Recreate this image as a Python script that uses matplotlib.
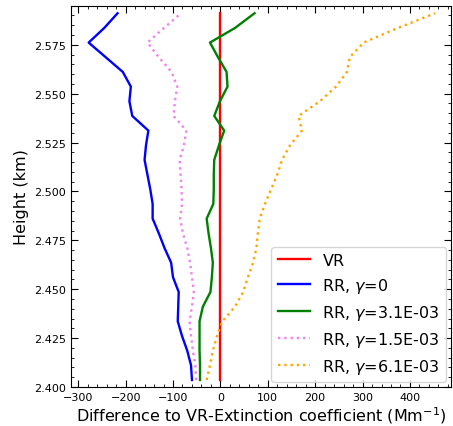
import numpy as np
import matplotlib
matplotlib.use("Agg")
import matplotlib.pyplot as plt
from matplotlib.ticker import MultipleLocator

# height levels (km), bottom to top
heights = [2.4036, 2.4111, 2.4186, 2.4261, 2.4336, 2.4411, 2.4486, 2.4561,
           2.4636, 2.4711, 2.4786, 2.4861, 2.4936, 2.5011, 2.5086, 2.5161,
           2.5236, 2.5311, 2.5386, 2.5461, 2.5536, 2.5611, 2.5686, 2.5761,
           2.5836, 2.5911]

# difference to VR extinction coefficient (Mm^-1)
vr = [0.0] * len(heights)
rr_g0 = [-60, -62, -70, -81, -90, -89, -88, -100, -104, -118, -130, -143, -143,
         -148, -154, -160, -157, -152, -186, -192, -189, -206, -242, -278, -245, -217]
rr_g31 = [-43, -43, -44, -44, -44, -37, -21, -18, -16, -20, -25, -29, -15,
          -14, -14, -13, -3, 8, -13, -1, 15, 13, -5, -22, 31, 72]
rr_g15 = [-51, -53, -58, -62, -65, -60, -56, -60, -64, -70, -79, -85, -81,
          -82, -84, -86, -77, -72, -99, -96, -91, -103, -130, -154, -119, -83]
rr_g61 = [-29, -22, -16, -7, 4, 31, 48, 58, 69, 76, 79, 83, 94,
          107, 120, 130, 147, 172, 165, 210, 244, 267, 273, 302, 375, 453]

fig = plt.figure(figsize=(4.53, 4.27), dpi=100)
ax = fig.add_axes([0.157, 0.0913, 0.839, 0.8923])

ax.plot(vr, heights, color='red', lw=1.7, label='VR')
ax.plot(rr_g0, heights, color='blue', lw=1.7, label=r'RR, $\gamma$=0')
ax.plot(rr_g31, heights, color='green', lw=1.7, label=r'RR, $\gamma$=3.1E-03')
ax.plot(rr_g15, heights, color='violet', lw=1.7, ls=':', label=r'RR, $\gamma$=1.5E-03')
ax.plot(rr_g61, heights, color='orange', lw=1.7, ls=':', label=r'RR, $\gamma$=6.1E-03')

ax.set_xlim(-315, 487)
ax.set_ylim(2.400, 2.5948)
ax.xaxis.set_major_locator(MultipleLocator(100))
ax.xaxis.set_minor_locator(MultipleLocator(20))
ax.yaxis.set_major_locator(MultipleLocator(0.025))
ax.yaxis.set_minor_locator(MultipleLocator(0.005))
ax.yaxis.set_major_formatter(matplotlib.ticker.FormatStrFormatter('%.3f'))
ax.tick_params(which='both', direction='in', top=True, right=True, labelsize=8)
ax.tick_params(which='major', length=5)
ax.tick_params(which='minor', length=2.5)

ax.set_xlabel(r'Difference to VR-Extinction coefficient (Mm$^{-1}$)', fontsize=11.5, labelpad=2)
ax.set_ylabel('Height (km)', fontsize=11.5)
ax.legend(loc='lower right', fontsize=11.5, borderaxespad=0.3)

fig.savefig("out.png", dpi=100)
